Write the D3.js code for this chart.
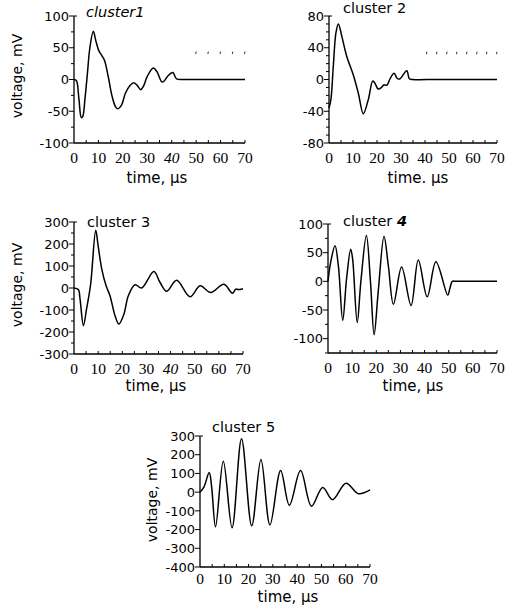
<!DOCTYPE html>
<html>
<head>
<meta charset="utf-8">
<script src="https://cdn.jsdelivr.net/npm/d3@7"></script>
<style>
  html, body { margin: 0; padding: 0; background: #fff; }
  svg { display: block; }
</style>
</head>
<body>
<svg id="chart" width="508" height="608"></svg>
<script>
// ---- data (time in µs, voltage in mV) ----
const c1Time = [0, 1, 2, 3, 3.6, 4.5, 5.5, 6.5, 7.9, 9, 10.2, 11.5, 12.5, 14, 15.5, 17, 18, 19.5, 21, 23, 24.5, 26, 27.3, 28.5, 30, 32.5, 34, 36, 37, 38.5, 40.5, 41.2, 42, 45, 55, 70];
const c1Volt = [0, -2, -30, -60, -58, -30, 10, 50, 76, 60, 45, 37, 30, 5, -25, -43, -46, -40, -22, -9, -5, -10, -16, -10, 5, 18, 12, -4, -2, 6, 11, 6, 1, 0, 0, 0];

const c2Time = [0, 0.8, 1.8, 2.9, 3.9, 5.3, 7.4, 10.1, 12.2, 14.3, 16.4, 18.2, 19, 20.5, 21.9, 22.8, 24.2, 25.3, 27.1, 28.5, 29.6, 32.4, 33.5, 35, 45, 70];
const c2Volt = [-36, -25, 17, 59, 70, 55, 29, 6, -17, -43, -25, -2, -4, -12, -10, -7, -7, 0, 8, 1, 1, 11, 1, 0, 0, 0];

const c3Time = [0, 1.8, 2.5, 3.9, 5.2, 6.9, 9, 10, 11.5, 13.3, 14.9, 17, 18.6, 20.7, 22.5, 25.3, 28, 33.1, 35.6, 38.4, 42.5, 48.1, 52.2, 56.6, 62.1, 65.6, 67, 68, 70];
const c3Volt = [0, -7, -50, -171, -95, 18, 262, 192, 86, 10, -35, -126, -164, -118, -35, 15, 0, 75, 26, -15, 35, -40, 10, -20, 17, -24, -5, -7, -3];

const c4Time = [0, 1.1, 2.9, 4.3, 6.1, 7.7, 9.4, 10.2, 12.1, 13.6, 15.9, 17.6, 19.1, 20.8, 23.2, 25, 27.1, 30.5, 34.4, 37.4, 41.1, 44.7, 49.6, 50.5, 51.5, 53, 60, 70];
const c4Volt = [0, 33, 62, 27, -68, 5, 56, 39, -72, -1, 80, -1, -93, -18, 78, 27, -40, 25, -42, 37, -27, 34, -24, -12, 0, 0, 0, 0];

const c5Time = [0, 1.6, 3.8, 4.8, 6.4, 9.6, 13.2, 17.1, 21.3, 25.1, 28.8, 33.2, 36.8, 41.4, 45.9, 50.5, 54.6, 60.1, 65.2, 70];
const c5Volt = [0, 27, 105, 27, -185, 165, -190, 285, -180, 175, -175, 115, -70, 115, -75, 25, -40, 48, -8, 12];

// tick labels
const timeTicks = [0, 10, 20, 30, 40, 50, 60, 70];
const c1Ticks = [-100, -50, 0, 50, 100];
const c2Ticks = [-80, -40, 0, 40, 80];
const c3Ticks = [-300, -200, -100, 0, 100, 200, 300];
const c4Ticks = [-100, -50, 0, 50, 100];
const c5Ticks = [-400, -300, -200, -100, 0, 100, 200, 300];

// scan artefact dots near the top-right of panels 1 and 2
const c1DotTimes = [50, 55, 60, 65, 70];
const c2DotTimes = [40.8, 45, 49.2, 53.3, 57.5, 61.7, 65.8, 70];

// ---- drawing ----
const svg = d3.select("#chart");
const SANS = "DejaVu Sans, sans-serif";
const SERIF = "Liberation Serif, Times New Roman, serif";

function panel(cfg) {
  const x = d3.scaleLinear().domain([0, 70]).range([cfg.x0, cfg.x1]);
  const y = d3.scaleLinear().domain(cfg.yDomain).range([cfg.yBot, cfg.yTop]);
  const g = svg.append("g");

  // axis lines
  g.append("line").attr("x1", cfg.x0).attr("x2", cfg.x0).attr("y1", cfg.yTop).attr("y2", cfg.yBot)
    .attr("stroke", "#000").attr("stroke-width", 1.3);
  g.append("line").attr("x1", cfg.x0).attr("x2", cfg.x1).attr("y1", cfg.yBot).attr("y2", cfg.yBot)
    .attr("stroke", "#000").attr("stroke-width", 1.3);
  // small hook at top of y axis
  g.append("line").attr("x1", cfg.x0).attr("x2", cfg.x0 + 3).attr("y1", cfg.yTop).attr("y2", cfg.yTop)
    .attr("stroke", "#000").attr("stroke-width", 1);

  // y major ticks + labels
  cfg.yTicks.forEach(v => {
    g.append("line").attr("x1", cfg.x0 - 5).attr("x2", cfg.x0).attr("y1", y(v)).attr("y2", y(v))
      .attr("stroke", "#000").attr("stroke-width", 1);
    g.append("text").attr("x", cfg.x0 - 5).attr("y", y(v)).attr("dy", "0.36em")
      .attr("text-anchor", "end").attr("font-family", SANS).attr("font-size", 13)
      .text(String(v));
  });
  // y minor ticks
  if (cfg.yMinor) {
    const [lo, hi] = cfg.yDomain;
    for (let v = Math.ceil(lo / cfg.yMinor) * cfg.yMinor; v <= hi; v += cfg.yMinor) {
      if (cfg.yTicks.includes(v)) continue;
      g.append("line").attr("x1", cfg.x0 - 3).attr("x2", cfg.x0).attr("y1", y(v)).attr("y2", y(v))
        .attr("stroke", "#000").attr("stroke-width", 1);
    }
  }
  // x ticks (inward, every 5)
  for (let t = 5; t <= 70; t += 5) {
    g.append("line").attr("x1", x(t)).attr("x2", x(t)).attr("y1", cfg.yBot).attr("y2", cfg.yBot - 3)
      .attr("stroke", "#000").attr("stroke-width", 1);
  }
  // x labels
  timeTicks.forEach(t => {
    g.append("text").attr("x", x(t)).attr("y", cfg.yBot + cfg.xLabDy)
      .attr("text-anchor", "middle").attr("font-family", SERIF).attr("font-size", 15.5)
      .attr("font-style", (cfg.italic40 && t === 40) ? "italic" : "normal")
      .text(t);
  });
  // x title
  g.append("text").attr("x", cfg.xTitleX).attr("y", cfg.yBot + cfg.xTitleDy)
    .attr("text-anchor", "middle").attr("font-family", SANS).attr("font-size", 15)
    .text(cfg.xTitle);
  // y title
  if (cfg.yTitleX) {
    g.append("text")
      .attr("transform", `translate(${cfg.yTitleX},${cfg.yTitleY}) rotate(-90)`)
      .attr("text-anchor", "middle").attr("font-family", SANS).attr("font-size", 14)
      .text("voltage, mV");
  }
  // panel title
  const tt = g.append("text").attr("x", cfg.titleX).attr("y", cfg.titleY)
    .attr("font-family", SANS).attr("font-size", 14.5)
    .attr("font-style", cfg.titleItalic ? "italic" : "normal");
  tt.append("tspan").text(cfg.titleMain);
  tt.append("tspan").attr("font-style", cfg.numItalic ? "italic" : null)
    .attr("font-weight", cfg.numBold ? "bold" : null).text(cfg.titleNum);

  // waveform
  const pts = cfg.time.map((t, i) => [t, cfg.volt[i]]);
  const line = d3.line().x(d => x(d[0])).y(d => y(d[1])).curve(d3.curveCatmullRom.alpha(0.5));
  g.append("path").attr("d", line(pts)).attr("fill", "none")
    .attr("stroke", "#000").attr("stroke-width", 1.5).attr("stroke-linejoin", "round");

  // artefact dots
  if (cfg.dots) {
    cfg.dots.forEach(t => {
      g.append("line").attr("x1", x(t)).attr("x2", x(t) - 0.5)
        .attr("y1", y(cfg.dotV)).attr("y2", y(cfg.dotV) + 2.5)
        .attr("stroke", "#333").attr("stroke-width", 1);
    });
  }
}

panel({ x0: 74, x1: 245, yTop: 16, yBot: 143, yDomain: [-100, 100], yTicks: c1Ticks, yMinor: 25,
  time: c1Time, volt: c1Volt, italic40: true, xLabDy: 20,
  xTitle: "time, µs", xTitleX: 157, xTitleDy: 40, yTitleX: 22, yTitleY: 76,
  titleMain: "cluster1", titleNum: "", titleX: 86, titleY: 17, titleItalic: true,
  dots: c1DotTimes, dotV: 44 });

panel({ x0: 329, x1: 497, yTop: 16, yBot: 143, yDomain: [-80, 80], yTicks: c2Ticks, yMinor: 10,
  time: c2Time, volt: c2Volt, xLabDy: 20,
  xTitle: "time. µs", xTitleX: 418, xTitleDy: 40,
  titleMain: "cluster ", titleNum: "2", titleX: 343, titleY: 13,
  dots: c2DotTimes, dotV: 35 });

panel({ x0: 74, x1: 243, yTop: 222, yBot: 354, yDomain: [-300, 300], yTicks: c3Ticks, yMinor: 50,
  time: c3Time, volt: c3Volt, italic40: true, xLabDy: 20,
  xTitle: "time, µs", xTitleX: 156, xTitleDy: 37, yTitleX: 22, yTitleY: 285,
  titleMain: "cluster ", titleNum: "3", titleX: 87, titleY: 227 });

panel({ x0: 328, x1: 497, yTop: 224, yBot: 353, yDomain: [-125, 100], yTicks: c4Ticks, yMinor: 25,
  time: c4Time, volt: c4Volt, xLabDy: 20,
  xTitle: "time, µs", xTitleX: 413, xTitleDy: 38,
  titleMain: "cluster ", titleNum: "4", titleX: 343, titleY: 226, numItalic: true, numBold: true });

panel({ x0: 200, x1: 370, yTop: 436, yBot: 567, yDomain: [-400, 300], yTicks: c5Ticks, yMinor: 0,
  time: c5Time, volt: c5Volt, xLabDy: 17,
  xTitle: "time, µs", xTitleX: 288, xTitleDy: 35, yTitleX: 157, yTitleY: 500,
  titleMain: "cluster ", titleNum: "5", titleX: 212, titleY: 432 });
</script>
</body>
</html>
